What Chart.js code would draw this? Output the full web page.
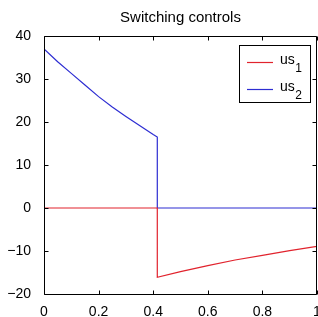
<!DOCTYPE html>
<html>
<head>
<meta charset="utf-8">
<script src="https://cdn.jsdelivr.net/npm/chart.js"></script>
<style>
html,body{margin:0;padding:0;background:#fff;}
#wrap{width:318px;height:317px;position:relative;}
</style>
</head>
<body>
<div id="wrap"><canvas id="c"></canvas></div>
<script>
const titleText = "Switching controls";
const seriesNames = ["us", "us"];
const seriesSubs = ["1", "2"];
const t1 = [0, 0.415, 0.415, 0.5, 0.6, 0.7, 0.8, 0.9, 1];
const us1 = [0, 0, -16.1, -14.8, -13.4, -12.1, -11.0, -9.9, -8.9];
const t2 = [0, 0.05, 0.1, 0.15, 0.2, 0.25, 0.3, 0.35, 0.4, 0.415, 0.415, 1];
const us2 = [37, 34.0, 31.3, 28.6, 25.9, 23.5, 21.3, 19.2, 17.1, 16.5, 0, 0];
const xTicks = [0, 0.2, 0.4, 0.6, 0.8, 1];
const yTicks = [-20, -10, 0, 10, 20, 30, 40];
const colors = ["rgb(225,35,45)", "rgb(45,45,210)"];

const fmt = v => (v < 0 ? "\u2212" + Math.abs(v) : String(v));

const framePlugin = {
  id: "frame",
  afterDatasetsDraw(chart) {
    const {ctx, chartArea: a, scales} = chart;
    ctx.save();
    ctx.strokeStyle = "#000";
    ctx.lineWidth = 1;
    const l = Math.round(a.left) + 0.5, r = Math.round(a.right) - 0.5;
    const t = Math.round(a.top) + 0.5, b = Math.round(a.bottom) + 0.5;
    ctx.beginPath();
    ctx.moveTo(l, t); ctx.lineTo(r, t); ctx.lineTo(r, b); ctx.lineTo(l, b); ctx.closePath();
    ctx.stroke();
    const L = 4;
    ctx.beginPath();
    xTicks.forEach(v => {
      const x = Math.round(scales.x.getPixelForValue(v)) + 0.5;
      ctx.moveTo(x, b); ctx.lineTo(x, b - L);
      ctx.moveTo(x, t); ctx.lineTo(x, t + L);
    });
    yTicks.forEach(v => {
      const y = Math.round(scales.y.getPixelForValue(v)) + 0.5;
      ctx.moveTo(l, y); ctx.lineTo(l + L, y);
      ctx.moveTo(r, y); ctx.lineTo(r - L, y);
    });
    ctx.stroke();
    // legend
    const bx = 239.5, by = 45.5, bw = 71, bh = 57;
    ctx.fillStyle = "#fff";
    ctx.fillRect(bx, by, bw, bh);
    ctx.strokeRect(bx, by, bw, bh);
    const rows = [62, 89];
    chart.data.datasets.forEach((ds, i) => {
      ctx.strokeStyle = ds.borderColor;
      ctx.lineWidth = 1.2;
      ctx.beginPath();
      ctx.moveTo(247, rows[i] + 0.5); ctx.lineTo(273, rows[i] + 0.5);
      ctx.stroke();
      ctx.fillStyle = "#000";
      ctx.textBaseline = "alphabetic";
      ctx.textAlign = "left";
      ctx.font = "14px 'Liberation Sans', sans-serif";
      ctx.fillText(seriesNames[i], 280, rows[i] + 2);
      const w = ctx.measureText(seriesNames[i]).width;
      ctx.font = "12px 'Liberation Sans', sans-serif";
      ctx.fillText(seriesSubs[i], 280 + w + 0.5, rows[i] + 10);
    });
    ctx.restore();
  }
};

new Chart(document.getElementById("c"), {
  type: "line",
  data: {
    datasets: [
      { label: "us1", data: t1.map((x, i) => ({x, y: us1[i]})), borderColor: colors[0], borderWidth: 1.2, pointRadius: 0, tension: 0, fill: false },
      { label: "us2", data: t2.map((x, i) => ({x, y: us2[i]})), borderColor: colors[1], borderWidth: 1.2, pointRadius: 0, tension: 0, fill: false }
    ]
  },
  options: {
    responsive: true,
    maintainAspectRatio: false,
    animation: false,
    layout: { padding: { left: 0, right: 1, top: 0, bottom: 0 } },
    plugins: {
      legend: { display: false },
      tooltip: { enabled: false },
      title: {
        display: true, text: titleText, color: "#000", fullSize: false,
        font: { family: "'Liberation Sans', sans-serif", size: 15, weight: "normal" },
        padding: { top: 9, bottom: 9 }
      }
    },
    scales: {
      x: {
        type: "linear", min: 0, max: 1,
        grid: { display: false }, border: { display: false },
        afterBuildTicks: s => { s.ticks = xTicks.map(v => ({value: v})); },
        afterFit: s => { s.height = 23; s.paddingRight = 0; s.paddingLeft = 0; },
        ticks: { color: "#000", padding: 2, maxRotation: 0, autoSkip: false,
          font: { family: "'Liberation Sans', sans-serif", size: 14 }, callback: v => fmt(v) }
      },
      y: {
        type: "linear", min: -20, max: 40,
        grid: { display: false }, border: { display: false },
        afterBuildTicks: s => { s.ticks = yTicks.map(v => ({value: v})); },
        afterFit: s => { s.width = 44; },
        ticks: { color: "#000", padding: 5, autoSkip: false,
          font: { family: "'Liberation Sans', sans-serif", size: 14 }, callback: v => fmt(v) }
      }
    }
  },
  plugins: [framePlugin]
});
</script>
</body>
</html>
